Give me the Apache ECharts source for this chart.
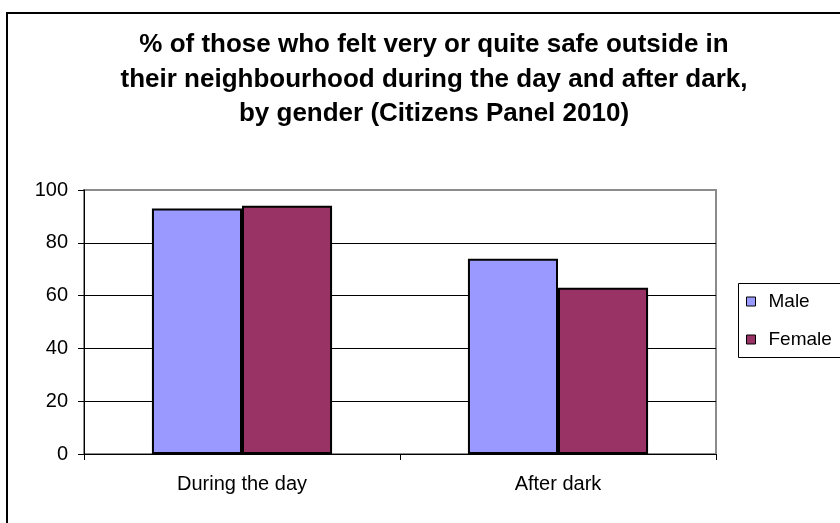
<!DOCTYPE html>
<html>
<head>
<meta charset="utf-8">
<script src="https://cdn.jsdelivr.net/npm/echarts@6/dist/echarts.min.js"></script>
<style>
  html, body { margin: 0; padding: 0; background: #fff; }
  #chart { width: 840px; height: 523px; }
</style>
</head>
<body>
<div id="chart"></div>
<script>
// Share of residents feeling very/quite safe, by time of day and gender
const categories = ['During the day', 'After dark'];
const maleValues = [93, 74];
const femaleValues = [94, 63];
const yTicks = [0, 20, 40, 60, 80, 100];
const titleLines = [
  '% of those who felt very or quite safe outside in',
  'their neighbourhood during the day and after dark,',
  'by gender (Citizens Panel 2010)'
];

const FONT = '"Liberation Sans", Arial, sans-serif';
const PLOT_BORDER = '#8c8c8c';
const chart = echarts.init(document.getElementById('chart'), null, { renderer: 'canvas' });

// gridlines are black, except the top one which coincides with the grey plot frame
const splitColors = yTicks.map((v, i) => (i === yTicks.length - 1 ? PLOT_BORDER : '#000'));

chart.setOption({
  backgroundColor: '#ffffff',
  animation: false,
  title: {
    text: titleLines.join('\n'),
    left: 434,
    textAlign: 'center',
    top: 28,
    padding: 0,
    textStyle: {
      fontFamily: FONT,
      fontWeight: 'bold',
      fontSize: 26,
      lineHeight: 34.5,
      color: '#000'
    }
  },
  legend: {
    orient: 'vertical',
    left: 746,
    top: 292,
    padding: 0,
    itemWidth: 9,
    itemHeight: 9,
    itemGap: 19,
    icon: 'rect',
    itemStyle: { borderColor: '#000', borderWidth: 1 },
    textStyle: { fontFamily: FONT, fontSize: 19, color: '#000', padding: [0, 0, 0, 8] },
    data: ['Male', 'Female']
  },
  graphic: [
    {
      type: 'rect',
      silent: true,
      shape: { x: 7, y: 13, width: 900, height: 600 },
      style: { fill: 'none', stroke: '#000', lineWidth: 2 }
    },
    {
      type: 'rect',
      silent: true,
      shape: { x: 738.5, y: 283.5, width: 120, height: 74 },
      style: { fill: 'none', stroke: '#000', lineWidth: 1 }
    }
  ],
  grid: {
    left: 84,
    right: 124,
    top: 190,
    bottom: 69,
    show: true,
    borderColor: PLOT_BORDER,
    borderWidth: 2,
    backgroundColor: '#fff'
  },
  xAxis: {
    type: 'category',
    data: categories,
    boundaryGap: true,
    axisLine: { lineStyle: { color: '#000', width: 1 } },
    axisTick: { show: true, alignWithLabel: false, length: 6, lineStyle: { color: '#000' } },
    axisLabel: { fontFamily: FONT, fontSize: 20, color: '#000', margin: 20 }
  },
  yAxis: {
    type: 'value',
    min: yTicks[0],
    max: yTicks[yTicks.length - 1],
    interval: yTicks[1] - yTicks[0],
    axisLine: { show: true, lineStyle: { color: '#000', width: 1 } },
    axisTick: { show: true, length: 6, lineStyle: { color: '#000' } },
    axisLabel: { fontFamily: FONT, fontSize: 20, color: '#000', margin: 16 },
    splitLine: { show: true, lineStyle: { color: splitColors, width: 1 } }
  },
  series: [
    {
      name: 'Male',
      type: 'bar',
      data: maleValues,
      barGap: '0%',
      barCategoryGap: '43%',
      itemStyle: { color: '#9999ff', borderColor: '#000', borderWidth: 2 }
    },
    {
      name: 'Female',
      type: 'bar',
      data: femaleValues,
      itemStyle: { color: '#993366', borderColor: '#000', borderWidth: 2 }
    }
  ]
});
</script>
</body>
</html>
